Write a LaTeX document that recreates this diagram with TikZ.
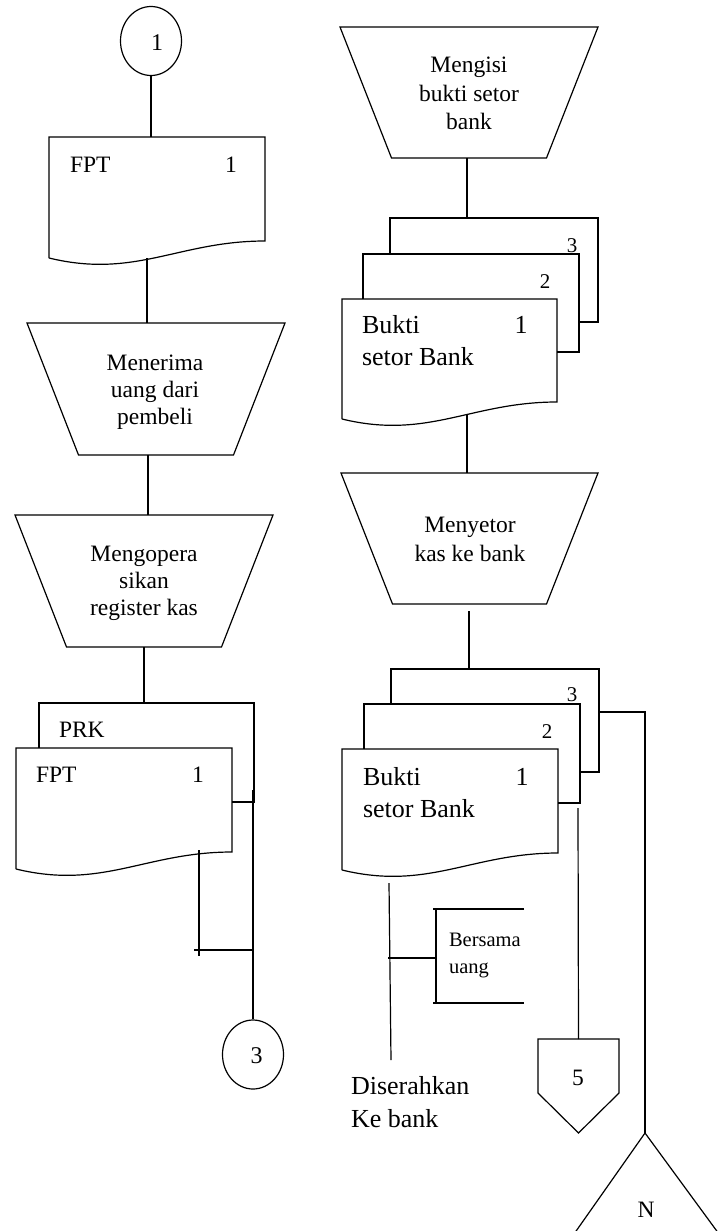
\documentclass[tikz,border=0pt]{standalone}
\usepackage{fontspec}
\setmainfont{Liberation Serif}
\usetikzlibrary{calc,shapes.geometric}

% full document symbol drawn on an empty frame node #1
\newcommand{\docoutline}[1]{%
  \draw[ln] ($(#1.south west)+(0,17)$) -- (#1.north west) -- (#1.north east) -- (#1.south east)
    .. controls ($(#1.south west)!0.6!(#1.south east)$) and ($(#1.south west)!0.4!(#1.south east)+(0,38)$)
    .. ($(#1.south west)+(0,17)$);}
% copy page #1 seen behind the front page #2
\newcommand{\backpage}[2]{%
  \draw[ln] (#1.north west |- #2.north) -- (#1.north west) -- (#1.north east) -- (#1.south east)
    -- (#2.east |- #1.south east);}
% manual operation (inverted trapezium) on frame node #1
\newcommand{\manualop}[1]{%
  \draw[ln] (#1.north west) -- (#1.north east) -- ($(#1.south east)+(-51.5,0)$)
    -- ($(#1.south west)+(51.5,0)$) -- cycle;}

\tikzset{
  ln/.style={line width=1.2pt, line join=miter},
  heavy/.style={line width=2pt},
  frame/.style={draw=none, inner sep=0pt, outer sep=0pt, anchor=north west},
  fs12/.style={font=\fontsize{23.5}{27}\selectfont},
  fs11/.style={font=\fontsize{20.5}{27}\selectfont},
  fs14/.style={font=\fontsize{26}{32}\selectfont},
  lbl/.style={inner sep=0pt, outer sep=0pt},
  conn/.style={ellipse, draw, line width=1.2pt, minimum width=61pt, minimum height=69pt, inner sep=0pt},
}

\begin{document}
\begin{tikzpicture}[x=1pt, y=-1pt]
\useasboundingbox (0,0) rectangle (727,1231);
\clip (0,0) rectangle (727,1231);

% ---------------- left column ----------------
\node[conn] (c1) at (151,41) {};
\node[lbl, font=\fontsize{24}{28}\selectfont, anchor=base] (c1txt) at (157,51) {1};

\node[frame, minimum width=216pt, minimum height=104pt] (fpt) at (49,137) {};
\docoutline{fpt}
\node[lbl, fs12, anchor=base west] (fptname) at (70,172) {FPT};
\node[lbl, fs12, anchor=base] (fptno) at (231,172) {1};
\draw[ln] (c1.south) -- (c1.south |- fpt.north);

\node[frame, minimum width=258pt, minimum height=132pt] (trima) at (27,323) {};
\manualop{trima}
\node[lbl, fs12, align=center, anchor=north] (trimatxt) at (155,355.4) {Menerima\\uang dari\\pembeli};
\draw[ln] ($(fpt.south)+(-10,17)$) -- ($(trima.north)+(-9,0)$);

\node[frame, minimum width=258pt, minimum height=132pt] (opr) at (15,515) {};
\manualop{opr}
\node[lbl, fs12, align=center, anchor=north] (oprtxt) at (144,546.5) {Mengopera\\sikan\\register kas};
\draw[ln] ($(trima.south)+(-8,0)$) -- ($(opr.north)+(4,0)$);

\node[frame, minimum width=215pt, minimum height=99pt] (prk) at (39,703) {};
\node[frame, minimum width=216pt, minimum height=104pt] (fpt2) at (16,748) {};
\backpage{prk}{fpt2}
\docoutline{fpt2}
\node[lbl, fs12, anchor=base west] (prkname) at (59,737) {PRK};
\node[lbl, fs12, anchor=base west] (fpt2name) at (36,782) {FPT};
\node[lbl, fs12, anchor=base] (fpt2no) at (198,782) {1};
\draw[ln] (opr.south) -- (opr.south |- prk.north);

\node[conn] (c3) at (253,1054.5) {};
\node[lbl, font=\fontsize{24}{28}\selectfont, anchor=base] (c3txt) at (256.5,1063) {3};
\draw[heavy] ($(prk.south east)+(-1,-12)$) -- (c3.north);

\coordinate (fptend) at (199,956);
\coordinate (jl) at (194,950);
\draw[ln] ($(fpt2.south)+(75,-2)$) -- (fptend);
\draw[ln] (jl) -- (jl -| c3.north);

% ---------------- right column ----------------
\node[frame, minimum width=258pt, minimum height=131pt] (isi) at (340,27) {};
\manualop{isi}
\node[lbl, font=\fontsize{23.5}{28.5}\selectfont, align=center, anchor=north] (isitxt) at (469,57.4) {Mengisi\\bukti setor\\bank};

\node[frame, minimum width=208pt, minimum height=104pt] (bsA3) at (390,218) {};
\node[frame, minimum width=216pt, minimum height=98pt] (bsA2) at (363,254) {};
\node[frame, minimum width=215pt, minimum height=103pt] (bsA1) at (342,299) {};
\backpage{bsA3}{bsA2}
\backpage{bsA2}{bsA1}
\docoutline{bsA1}
\node[lbl, font=\fontsize{21}{25}\selectfont, anchor=base] (bsA3no) at (572,252) {3};
\node[lbl, font=\fontsize{21}{25}\selectfont, anchor=base] (bsA2no) at (545,288) {2};
\node[lbl, fs14, anchor=base] (bsA1no) at (521,333) {1};
\node[lbl, fs14, align=left, anchor=north west] (bsA1txt) at (362,315.2) {Bukti\\setor Bank};
\draw[ln] ($(isi.south)+(-2,0)$) -- ($(isi.south |- bsA3.north)+(-2,0)$);

\node[frame, minimum width=257pt, minimum height=131pt] (setor) at (341,473) {};
\manualop{setor}
\node[lbl, font=\fontsize{23.5}{29}\selectfont, align=center, anchor=north] (setortxt) at (470,517.5) {Menyetor\\kas ke bank};
\draw[ln] ($(bsA1.south)+(17.5,13)$) -- ($(setor.north)+(-2.5,0)$);

\node[frame, minimum width=208pt, minimum height=103pt] (bsB3) at (391,669) {};
\node[frame, minimum width=216pt, minimum height=99pt] (bsB2) at (364,704) {};
\node[frame, minimum width=216pt, minimum height=104pt] (bsB1) at (342,749) {};
\backpage{bsB3}{bsB2}
\backpage{bsB2}{bsB1}
\docoutline{bsB1}
\node[lbl, font=\fontsize{21}{25}\selectfont, anchor=base] (bsB3no) at (572,701) {3};
\node[lbl, font=\fontsize{21}{25}\selectfont, anchor=base] (bsB2no) at (547,738) {2};
\node[lbl, fs14, anchor=base] (bsB1no) at (522,785) {1};
\node[lbl, fs14, align=left, anchor=north west] (bsB1txt) at (363,767.2) {Bukti\\setor Bank};
\draw[ln] ($(setor.south)+(-0.5,7)$) -- ($(setor.south |- bsB3.north)+(-0.5,0)$);

% copy 1 handed over to the bank, with the money
\coordinate (hand) at (391,1060);
\draw[ln] ($(bsB1.south west)+(47,30)$) -- (hand);
\node[frame, minimum width=91pt, minimum height=94pt] (ann) at (433,909) {};
\draw[ln] (ann.north east) -- (ann.north west);
\draw[ln] ($(ann.north west)+(3,0)$) -- ($(ann.south west)+(3,0)$);
\draw[ln] (ann.south west) -- (ann.south east);
\draw[ln] ($(ann.west)+(3,2)$) -- ($(ann.west)+(-45,2)$);
\node[lbl, fs11, align=left, anchor=north west] (anntxt) at (449,932.8) {Bersama\\uang};
\node[lbl, font=\fontsize{26}{33}\selectfont, align=left, anchor=north west] (handtxt) at (351,1076) {Diserahkan\\Ke bank};

% copy 2 to off-page connector 5
\node[frame, minimum width=81pt, minimum height=94pt] (pent) at (538,1039) {};
\draw[ln] (pent.north west) -- (pent.north east) -- ($(pent.south east)+(0,-40)$) -- (pent.south)
  -- ($(pent.south west)+(0,-40)$) -- cycle;
\node[lbl, fs12, anchor=base] (penttxt) at (578,1085) {5};
\draw[ln] ($(bsB2.south east)+(-2,5)$) -- (pent.north);

% copy 3 to file N
\coordinate (tri) at (645,1133);
\coordinate (triL) at (574,1234);
\coordinate (triR) at (719,1234);
\draw[ln] (triL) -- (tri) -- (triR);
\node[lbl, fs12, anchor=base] (tritxt) at (646,1217) {N};
\draw[ln] ($(bsB3.north east)+(0,43)$) -| (tri);
\end{tikzpicture}
\end{document}
